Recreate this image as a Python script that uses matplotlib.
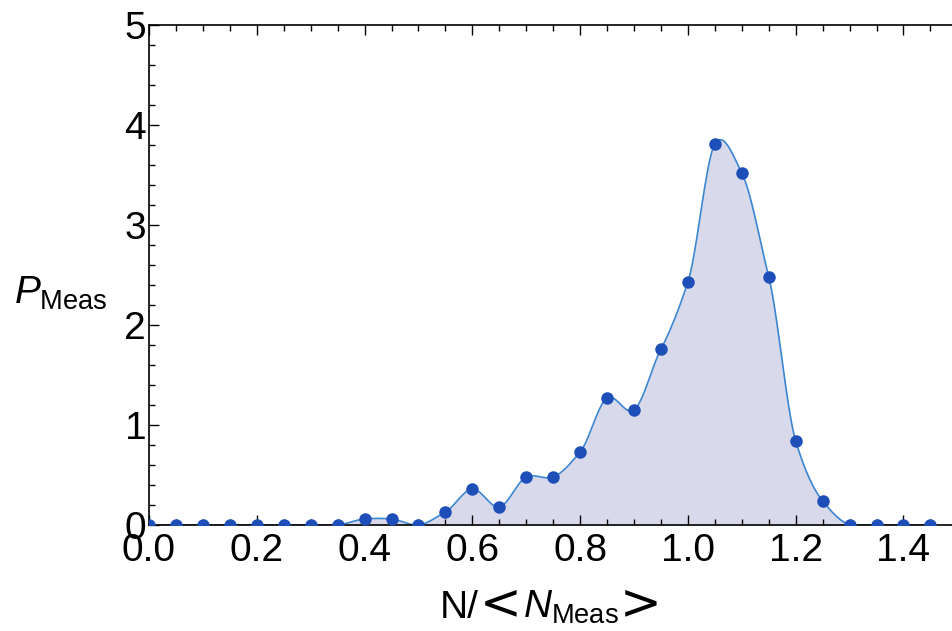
import numpy as np
import matplotlib
matplotlib.use("Agg")
import matplotlib.pyplot as plt
from matplotlib.ticker import MultipleLocator, FormatStrFormatter
from matplotlib.offsetbox import TextArea, HPacker, AnchoredOffsetbox

plt.rcParams["font.family"] = ["Liberation Sans", "DejaVu Sans"]
plt.rcParams["mathtext.fontset"] = "custom"
plt.rcParams["mathtext.rm"] = "Liberation Sans"
plt.rcParams["mathtext.it"] = "Liberation Sans:italic"

# measured distribution, sampled every 0.05
n_ratio = [0.00, 0.05, 0.10, 0.15, 0.20, 0.25, 0.30, 0.35, 0.40, 0.45,
           0.50, 0.55, 0.60, 0.65, 0.70, 0.75, 0.80, 0.85, 0.90, 0.95,
           1.00, 1.05, 1.10, 1.15, 1.20, 1.25, 1.30, 1.35, 1.40, 1.45]
p_meas = [0.00, 0.00, 0.00, 0.00, 0.00, 0.00, 0.00, 0.00, 0.06, 0.06,
          0.00, 0.13, 0.36, 0.18, 0.48, 0.48, 0.73, 1.27, 1.15, 1.76,
          2.43, 3.81, 3.52, 2.48, 0.84, 0.24, 0.00, 0.00, 0.00, 0.00]


def cardinal_spline(x, y, tension=0.6, per_seg=30):
    """Smooth curve through the points (cardinal spline, scaled tangents)."""
    x = np.asarray(x, float)
    y = np.asarray(y, float)
    px = np.concatenate([[2 * x[0] - x[1]], x, [2 * x[-1] - x[-2]]])
    py = np.concatenate([[y[0]], y, [y[-1]]])
    t = np.linspace(0, 1, per_seg, endpoint=False)
    h00 = 2 * t ** 3 - 3 * t ** 2 + 1
    h10 = t ** 3 - 2 * t ** 2 + t
    h01 = -2 * t ** 3 + 3 * t ** 2
    h11 = t ** 3 - t ** 2
    xs, ys = [], []
    for i in range(1, len(px) - 2):
        for arr, out in ((px, xs), (py, ys)):
            p0, p1, p2, p3 = arr[i - 1:i + 3]
            m1 = tension * (p2 - p0) / 2
            m2 = tension * (p3 - p1) / 2
            if arr is px:
                m1 = m2 = (p2 - p1)
            out.append(h00 * p1 + h10 * m1 + h01 * p2 + h11 * m2)
    xs.append([x[-1]])
    ys.append([y[-1]])
    return np.concatenate(xs), np.clip(np.concatenate(ys), 0, None)


sx, sy = cardinal_spline(n_ratio, p_meas, tension=0.8)

fig = plt.figure(figsize=(9.52, 6.31), dpi=100)
ax = fig.add_axes([0.1565, 0.168, 0.8435, 0.7924])

ax.fill_between(sx, 0, sy, color="#d9d9ec", lw=0, zorder=1)
ax.plot(sx, sy, color="#3a86d0", lw=1.2, zorder=2)
ax.plot(n_ratio, p_meas, "o", color="#1e4fb8", ms=9, mec="none", zorder=3)

ax.set_xlim(0, 1.49)
ax.set_ylim(0, 5)
ax.xaxis.set_major_locator(MultipleLocator(0.2))
ax.xaxis.set_minor_locator(MultipleLocator(0.05))
ax.yaxis.set_major_locator(MultipleLocator(1))
ax.yaxis.set_minor_locator(MultipleLocator(0.2))
ax.xaxis.set_major_formatter(FormatStrFormatter("%.1f"))

ax.spines["right"].set_visible(False)
for s in ("left", "bottom", "top"):
    ax.spines[s].set_linewidth(1.2)
ax.tick_params(which="both", direction="in", top=True, right=False,
               labelsize=28, pad=2, width=1)
ax.tick_params(which="major", length=7)
ax.tick_params(which="minor", length=4)
ax.tick_params(axis="x", pad=6)

# x label: N/<N_Meas> with wide angle signs
parts = [
    TextArea("N/", textprops=dict(fontsize=28)),
    TextArea("<", textprops=dict(fontsize=36, family="DejaVu Sans")),
    TextArea(r"$\mathit{N}_{\mathrm{Meas}}$", textprops=dict(fontsize=28)),
    TextArea(">", textprops=dict(fontsize=36, family="DejaVu Sans")),
]
xlab = HPacker(children=parts, align="baseline", pad=0, sep=1)
box = AnchoredOffsetbox(loc="lower center", child=xlab, pad=0, frameon=False,
                        bbox_to_anchor=(0.5785, 0.005),
                        bbox_transform=fig.transFigure, borderpad=0)
fig.add_artist(box)

fig.text(0.015, 0.535, r"$\mathit{P}_{\mathrm{Meas}}$", fontsize=28,
         ha="left", va="center")

fig.savefig("out.png", dpi=100)
